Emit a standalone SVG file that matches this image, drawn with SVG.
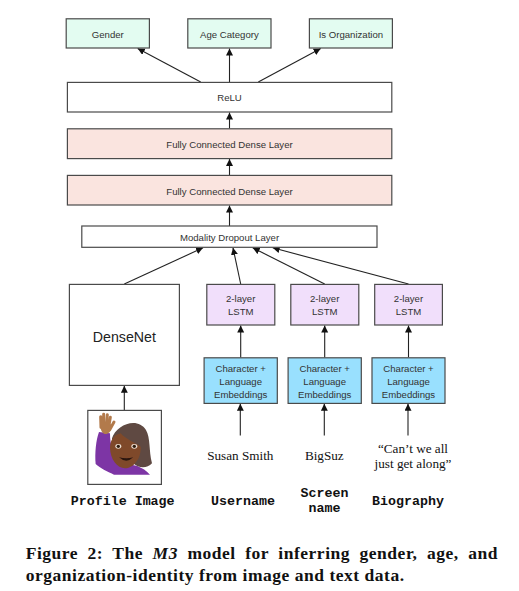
<svg xmlns="http://www.w3.org/2000/svg" width="519" height="591" viewBox="0 0 519 591">
<style>
.b{stroke:#4a4a4a;stroke-width:1.2}
.t{font-family:"Liberation Sans",Arial,sans-serif;font-size:9.6px;fill:#333;text-anchor:middle}
.s{font-family:"Liberation Serif","Times New Roman",serif;font-size:13.2px;fill:#111;text-anchor:middle}
.m{font-family:"Liberation Mono","Courier New",monospace;font-weight:bold;font-size:13.3px;fill:#111;text-anchor:middle}
.c{font-family:"Liberation Serif","Times New Roman",serif;font-weight:bold;font-size:17.5px;letter-spacing:.52px;fill:#111}
.l{stroke:#222;stroke-width:1.1;fill:none;marker-end:url(#a)}
.green{fill:#e3fcf1}.pink{fill:#fae4df}.white{fill:#fff}.lilac{fill:#f1dffb}.blue{fill:#99e0fe}
</style>
<defs>
<marker id="a" markerUnits="userSpaceOnUse" markerWidth="8" markerHeight="8" refX="7" refY="3.5" orient="auto"><path d="M0 0L7 3.5L0 7z" fill="#111"/></marker>
<filter id="soft" x="-5%" y="-5%" width="110%" height="110%"><feGaussianBlur stdDeviation="1"/></filter>
</defs>
<rect width="519" height="591" fill="#fff"/>
<g id="connectors">
<path class="l" d="M200.7 82L137.7 48.5"/>
<path class="l" d="M229.5 82V48.5"/>
<path class="l" d="M258.3 82L320.7 48.5"/>
<path class="l" d="M229.5 128.5V112.5"/>
<path class="l" d="M229.5 175V159"/>
<path class="l" d="M229.5 226V205.5"/>
<path class="l" d="M124.3 284L203 247.8"/>
<path class="l" d="M240.7 284L233 247.8"/>
<path class="l" d="M324.7 284L252.7 247.8"/>
<path class="l" d="M408.5 284L272.7 247.8"/>
<path class="l" d="M240.7 357.5V325.5"/>
<path class="l" d="M324.7 357.5V325.5"/>
<path class="l" d="M408.5 357.5V325.5"/>
<path class="l" d="M124.3 410V385.8"/>
<path class="l" d="M240.3 435.5V403.8"/>
<path class="l" d="M324.3 435.5V403.8"/>
<path class="l" d="M408 435.5V403.8"/>
</g>
<g id="gender"><rect class="b green" x="66.2" y="18.8" width="83.2" height="29.2"/><text class="t" x="107.8" y="37.5">Gender</text></g>
<g id="age"><rect class="b green" x="187.8" y="18.8" width="83.2" height="29.2"/><text class="t" x="229.4" y="37.5">Age Category</text></g>
<g id="org"><rect class="b green" x="309.4" y="18.8" width="83" height="29.2"/><text class="t" x="350.9" y="37.5">Is Organization</text></g>
<g id="relu"><rect class="b white" x="67.4" y="82.4" width="324.4" height="29.6"/><text class="t" x="229.5" y="100.5">ReLU</text></g>
<g id="dense2"><rect class="b pink" x="67.4" y="128.8" width="324.4" height="29.8"/><text class="t" x="229.5" y="147.5">Fully Connected Dense Layer</text></g>
<g id="dense1"><rect class="b pink" x="67.4" y="175.4" width="324.4" height="29.6"/><text class="t" x="229.5" y="194.5">Fully Connected Dense Layer</text></g>
<g id="dropout"><rect class="b white" x="81.8" y="226" width="295.2" height="21.3"/><text class="t" x="229.5" y="240.5">Modality Dropout Layer</text></g>
<g id="densenet"><rect class="b white" x="69.4" y="284.4" width="110" height="101"/><text x="124.4" y="341.5" font-family="Liberation Sans,Arial,sans-serif" font-size="14.2" fill="#222" text-anchor="middle">DenseNet</text></g>
<g id="lstm1"><rect class="b lilac" x="206.8" y="284.4" width="68" height="40.6"/><text class="t" x="240.7" y="302">2-layer</text><text class="t" x="240.7" y="315">LSTM</text></g>
<g id="lstm2"><rect class="b lilac" x="290.8" y="284.4" width="68" height="40.6"/><text class="t" x="324.7" y="302">2-layer</text><text class="t" x="324.7" y="315">LSTM</text></g>
<g id="lstm3"><rect class="b lilac" x="374.7" y="284.4" width="67.7" height="40.6"/><text class="t" x="408.5" y="302">2-layer</text><text class="t" x="408.5" y="315">LSTM</text></g>
<g id="embed1"><rect class="b blue" x="204.1" y="357.8" width="73.2" height="45.6"/><text class="t" x="240.7" y="371.5">Character +</text><text class="t" x="240.7" y="385">Language</text><text class="t" x="240.7" y="398">Embeddings</text></g>
<g id="embed2"><rect class="b blue" x="288.1" y="357.8" width="73.2" height="45.6"/><text class="t" x="324.7" y="371.5">Character +</text><text class="t" x="324.7" y="385">Language</text><text class="t" x="324.7" y="398">Embeddings</text></g>
<g id="embed3"><rect class="b blue" x="372" y="357.8" width="73" height="45.6"/><text class="t" x="408.5" y="371.5">Character +</text><text class="t" x="408.5" y="385">Language</text><text class="t" x="408.5" y="398">Embeddings</text></g>
<g id="profile-image">
<rect class="b white" x="87.8" y="410.4" width="73.6" height="74"/>
<g transform="translate(50 400) scale(.3333)" filter="url(#soft)">
<path d="M147 96C138 120 134 160 137 192C150 205 175 216 192 224H300C290 212 276 204 262 198L205 185C190 165 180 135 180 100Z" fill="#7d35a5"/>
<g stroke="#b27a4c" stroke-width="9" stroke-linecap="round"><path d="M153 82L152 50M161 78L161 43M169 78L172 44M176 82L181 52M180 88L192 66"/></g>
<path d="M150 72H182L182 92Q176 102 164 102Q152 100 150 72Z" fill="#b27a4c"/>
<path d="M186 115C198 75 262 48 288 90C302 115 296 150 306 190C292 206 266 206 250 190L190 150Z" fill="#5e4a42"/>
<path d="M180 142C182 112 198 103 212 100C228 118 255 128 272 140C274 178 248 205 225 205C202 205 180 178 180 142Z" fill="#7f4a2b"/>
<ellipse cx="205" cy="139" rx="9" ry="7" fill="#e9dcd0"/><circle cx="205" cy="139" r="5" fill="#2d1a10"/>
<ellipse cx="253" cy="139" rx="9" ry="7" fill="#e9dcd0"/><circle cx="253" cy="139" r="5" fill="#2d1a10"/>
<path d="M207 172Q229 192 250 172Q229 178 207 172Z" fill="#2a1510"/>
</g>
</g>
<g id="username-value"><text class="s" x="240.3" y="460">Susan Smith</text></g>
<g id="screenname-value"><text class="s" x="324.3" y="460">BigSuz</text></g>
<g id="biography-value"><text class="s" x="413" y="453">“Can’t we all</text><text class="s" x="413" y="468">just get along”</text></g>
<g id="labels">
<text class="m" x="122.7" y="505">Profile Image</text>
<text class="m" x="243" y="505">Username</text>
<text class="m" x="324.5" y="497">Screen</text>
<text class="m" x="324.5" y="511.5">name</text>
<text class="m" x="408" y="505">Biography</text>
</g>
<g id="caption">
<text class="c" x="25.7" y="559.3" word-spacing="4.6">Figure 2: The <tspan font-style="italic">M3</tspan> model for inferring gender, age, and</text>
<text class="c" x="25.7" y="580.7">organization-identity from image and text data.</text>
</g>
</svg>
